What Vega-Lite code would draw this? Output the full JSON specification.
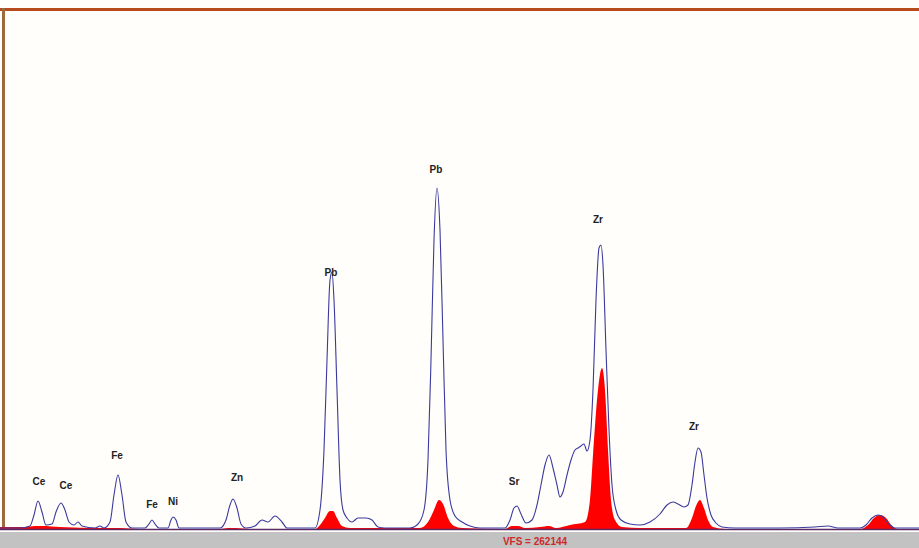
{
  "$schema": "https://vega.github.io/schema/vega-lite/v6.json",
  "width": 919,
  "height": 548,
  "autosize": "none",
  "padding": 0,
  "background": "#fffefb",
  "config": {"view": {"stroke": null}},
  "datasets": {
    "blue": [
      {"ch":0,"c":2},{"ch":20,"c":2},{"ch":30,"c":4},{"ch":34,"c":15},{"ch":38,"c":29},{"ch":42,"c":18},{"ch":46,"c":5},{"ch":52,"c":6},{"ch":56,"c":18},{"ch":61,"c":27},{"ch":65,"c":20},{"ch":69,"c":8},{"ch":74,"c":5},{"ch":78,"c":8},{"ch":82,"c":4},{"ch":95,"c":2},{"ch":100,"c":4},{"ch":104,"c":2},{"ch":110,"c":8},{"ch":114,"c":35},{"ch":118,"c":55},{"ch":122,"c":35},{"ch":126,"c":8},{"ch":132,"c":2},{"ch":145,"c":2},{"ch":149,"c":6},{"ch":152,"c":10},{"ch":155,"c":6},{"ch":159,"c":2},{"ch":168,"c":2},{"ch":171,"c":10},{"ch":173,"c":13},{"ch":176,"c":10},{"ch":179,"c":2},{"ch":220,"c":2},{"ch":226,"c":10},{"ch":230,"c":25},{"ch":233,"c":31},{"ch":237,"c":22},{"ch":241,"c":6},{"ch":246,"c":2},{"ch":255,"c":4},{"ch":262,"c":10},{"ch":268,"c":8},{"ch":275,"c":14},{"ch":282,"c":8},{"ch":287,"c":2},{"ch":315,"c":2},{"ch":320,"c":20},{"ch":324,"c":80},{"ch":327,"c":170},{"ch":330,"c":250},{"ch":332,"c":258},{"ch":334,"c":230},{"ch":337,"c":140},{"ch":340,"c":50},{"ch":343,"c":20},{"ch":347,"c":12},{"ch":352,"c":8},{"ch":358,"c":12},{"ch":366,"c":12},{"ch":372,"c":10},{"ch":378,"c":3},{"ch":385,"c":2},{"ch":410,"c":2},{"ch":418,"c":6},{"ch":424,"c":20},{"ch":428,"c":70},{"ch":431,"c":170},{"ch":434,"c":290},{"ch":437,"c":342},{"ch":440,"c":300},{"ch":443,"c":190},{"ch":446,"c":80},{"ch":450,"c":30},{"ch":455,"c":14},{"ch":462,"c":8},{"ch":470,"c":4},{"ch":480,"c":2},{"ch":505,"c":2},{"ch":510,"c":10},{"ch":514,"c":22},{"ch":517,"c":24},{"ch":521,"c":16},{"ch":526,"c":7},{"ch":532,"c":10},{"ch":537,"c":25},{"ch":541,"c":45},{"ch":545,"c":65},{"ch":549,"c":75},{"ch":553,"c":62},{"ch":557,"c":45},{"ch":560,"c":33},{"ch":563,"c":38},{"ch":567,"c":55},{"ch":571,"c":70},{"ch":575,"c":80},{"ch":578,"c":82},{"ch":581,"c":84},{"ch":584,"c":86},{"ch":587,"c":79},{"ch":590,"c":90},{"ch":593,"c":140},{"ch":596,"c":230},{"ch":599,"c":282},{"ch":601,"c":285},{"ch":603,"c":265},{"ch":606,"c":180},{"ch":609,"c":100},{"ch":612,"c":45},{"ch":616,"c":20},{"ch":621,"c":10},{"ch":630,"c":6},{"ch":640,"c":5},{"ch":650,"c":8},{"ch":660,"c":16},{"ch":667,"c":25},{"ch":673,"c":28},{"ch":678,"c":26},{"ch":684,"c":23},{"ch":688,"c":25},{"ch":692,"c":45},{"ch":695,"c":68},{"ch":698,"c":82},{"ch":701,"c":78},{"ch":704,"c":55},{"ch":707,"c":32},{"ch":711,"c":15},{"ch":716,"c":7},{"ch":722,"c":3},{"ch":735,"c":2},{"ch":760,"c":2},{"ch":780,"c":2},{"ch":815,"c":3},{"ch":828,"c":4},{"ch":838,"c":2},{"ch":860,"c":2},{"ch":866,"c":5},{"ch":872,"c":12},{"ch":878,"c":15},{"ch":883,"c":13},{"ch":889,"c":6},{"ch":895,"c":2},{"ch":919,"c":2}
    ],
    "red": [
      {"ch":0,"c":3},{"ch":25,"c":3},{"ch":35,"c":4},{"ch":42,"c":4},{"ch":60,"c":3},{"ch":100,"c":2},{"ch":120,"c":2},{"ch":140,"c":1},{"ch":220,"c":1},{"ch":228,"c":2},{"ch":236,"c":2},{"ch":250,"c":1},{"ch":315,"c":1},{"ch":320,"c":5},{"ch":325,"c":12},{"ch":330,"c":19},{"ch":333,"c":19},{"ch":337,"c":12},{"ch":342,"c":4},{"ch":350,"c":2},{"ch":420,"c":2},{"ch":428,"c":8},{"ch":434,"c":20},{"ch":439,"c":30},{"ch":443,"c":26},{"ch":448,"c":12},{"ch":454,"c":4},{"ch":462,"c":2},{"ch":505,"c":1},{"ch":512,"c":4},{"ch":518,"c":4},{"ch":525,"c":2},{"ch":540,"c":3},{"ch":549,"c":4},{"ch":556,"c":2},{"ch":570,"c":5},{"ch":585,"c":8},{"ch":590,"c":30},{"ch":594,"c":90},{"ch":598,"c":140},{"ch":602,"c":162},{"ch":605,"c":140},{"ch":608,"c":80},{"ch":611,"c":30},{"ch":615,"c":10},{"ch":622,"c":3},{"ch":640,"c":2},{"ch":686,"c":2},{"ch":692,"c":12},{"ch":696,"c":24},{"ch":700,"c":30},{"ch":704,"c":22},{"ch":708,"c":10},{"ch":713,"c":3},{"ch":725,"c":1},{"ch":860,"c":1},{"ch":868,"c":5},{"ch":874,"c":12},{"ch":880,"c":15},{"ch":886,"c":12},{"ch":892,"c":4},{"ch":898,"c":1},{"ch":919,"c":1}
    ],
    "labels": [
      {"ch":39,"c":48,"el":"Ce"},{"ch":66,"c":44,"el":"Ce"},{"ch":117,"c":74,"el":"Fe"},{"ch":152,"c":25,"el":"Fe"},{"ch":173,"c":28,"el":"Ni"},{"ch":237,"c":52,"el":"Zn"},{"ch":331,"c":257,"el":"Pb"},{"ch":436,"c":360,"el":"Pb"},{"ch":514,"c":48,"el":"Sr"},{"ch":598,"c":310,"el":"Zr"},{"ch":694,"c":103,"el":"Zr"}
    ]
  },
  "resolve": {"scale": {"x": "shared", "y": "shared"}},
  "layer": [
    {
      "data": {"values": [{"k":"strip"}]},
      "mark": {"type": "rect", "color": "#c2c2c2"},
      "encoding": {
        "x": {"datum": 0, "type": "quantitative", "scale": {"domain": [0, 919], "nice": false, "zero": false}, "axis": null},
        "x2": {"datum": 919},
        "y": {"datum": -2, "type": "quantitative", "scale": {"domain": [-18, 530], "nice": false, "zero": false}, "axis": null},
        "y2": {"datum": -18}
      }
    },
    {
      "data": {"values": [{"k":"top"}]},
      "mark": {"type": "rule", "color": "#b84a1c", "strokeWidth": 3},
      "encoding": {
        "x": {"datum": 0, "type": "quantitative"},
        "x2": {"datum": 919},
        "y": {"datum": 520.5, "type": "quantitative"}
      }
    },
    {
      "data": {"values": [{"k":"left"}]},
      "mark": {"type": "rule", "color": "#9c6a3c", "strokeWidth": 3},
      "encoding": {
        "x": {"datum": 3.5, "type": "quantitative"},
        "y": {"datum": 0, "type": "quantitative"},
        "y2": {"datum": 522}
      }
    },
    {
      "data": {"name": "red"},
      "mark": {"type": "area", "color": "#ff0000", "interpolate": "monotone"},
      "encoding": {
        "x": {"field": "ch", "type": "quantitative"},
        "y": {"field": "c", "type": "quantitative"}
      }
    },
    {
      "data": {"values": [{"k":"base"}]},
      "mark": {"type": "rule", "color": "#5a2a66", "strokeWidth": 1.5},
      "encoding": {
        "x": {"datum": 0, "type": "quantitative"},
        "x2": {"datum": 919},
        "y": {"datum": 0.5, "type": "quantitative"}
      }
    },
    {
      "data": {"name": "blue"},
      "mark": {"type": "line", "color": "#3a3a9e", "strokeWidth": 1.1, "interpolate": "monotone"},
      "encoding": {
        "x": {"field": "ch", "type": "quantitative"},
        "y": {"field": "c", "type": "quantitative"}
      }
    },
    {
      "data": {"name": "labels"},
      "mark": {"type": "text", "font": "Liberation Sans", "fontSize": 10, "fontWeight": "bold", "color": "#222222", "baseline": "middle", "align": "center"},
      "encoding": {
        "x": {"field": "ch", "type": "quantitative"},
        "y": {"field": "c", "type": "quantitative"},
        "text": {"field": "el"}
      }
    },
    {
      "data": {"values": [{"t": "VFS = 262144"}]},
      "mark": {"type": "text", "font": "Liberation Sans", "fontSize": 10, "fontWeight": "bold", "color": "#cc2a2a", "baseline": "bottom", "align": "center"},
      "encoding": {
        "x": {"datum": 535, "type": "quantitative"},
        "y": {"datum": -16.5, "type": "quantitative"},
        "text": {"field": "t"}
      }
    }
  ]
}
